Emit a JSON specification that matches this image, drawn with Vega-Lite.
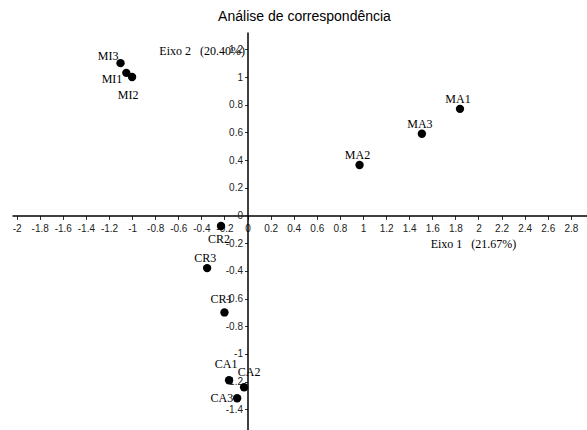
{
  "$schema": "https://vega.github.io/schema/vega-lite/v6.json",
  "width": 575,
  "height": 398,
  "autosize": {"type": "none"},
  "padding": {"top": 32, "left": 12, "right": 0, "bottom": 0},
  "background": "white",
  "title": {
    "text": "Análise de correspondência",
    "font": "Liberation Sans",
    "fontSize": 14,
    "fontWeight": "normal",
    "color": "#000",
    "offset": 8,
    "dx": 5,
    "anchor": "middle"
  },
  "config": {
    "view": {"stroke": null},
    "axis": {"grid": false}
  },
  "data": {
    "values": [
      {"label": "MI3", "x": -1.10, "y": 1.10},
      {"label": "MI1", "x": -1.05, "y": 1.03},
      {"label": "MI2", "x": -1.00, "y": 1.00},
      {"label": "MA1", "x": 1.84, "y": 0.77},
      {"label": "MA3", "x": 1.51, "y": 0.59},
      {"label": "MA2", "x": 0.97, "y": 0.365},
      {"label": "CR2", "x": -0.23, "y": -0.076},
      {"label": "CR3", "x": -0.35, "y": -0.38},
      {"label": "CR1", "x": -0.20, "y": -0.70},
      {"label": "CA1", "x": -0.16, "y": -1.19},
      {"label": "CA2", "x": -0.03, "y": -1.24},
      {"label": "CA3", "x": -0.09, "y": -1.32}
    ]
  },
  "encoding": {
    "x": {
      "field": "x",
      "type": "quantitative",
      "scale": {"domain": [-2.04, 2.94], "nice": false, "zero": false},
      "axis": {
        "orient": "bottom",
        "offset": -214.5,
        "values": [-2, -1.8, -1.6, -1.4, -1.2, -1, -0.8, -0.6, -0.4, -0.2, 0, 0.2, 0.4, 0.6, 0.8, 1, 1.2, 1.4, 1.6, 1.8, 2, 2.2, 2.4, 2.6, 2.8],
        "labelExpr": "'' + datum.value",
        "domainColor": "#000",
        "domainWidth": 1.5,
        "tickColor": "#333",
        "tickSize": 4,
        "labelPadding": 4,
        "labelFont": "Liberation Sans Narrow, Liberation Sans",
        "labelFontSize": 10,
        "labelColor": "#222",
        "labelOverlap": false,
        "labelFlush": false,
        "title": "Eixo 1\u00a0\u00a0\u00a0(21.67%)",
        "titleFont": "Liberation Serif",
        "titleFontSize": 12,
        "titleFontWeight": "normal",
        "titleColor": "#000",
        "titleAngle": 0,
        "titleX": 461,
        "titleY": 28,
        "titleAlign": "center",
        "titleBaseline": "middle"
      }
    },
    "y": {
      "field": "y",
      "type": "quantitative",
      "scale": {"domain": [-1.549, 1.325], "nice": false, "zero": false},
      "axis": {
        "orient": "left",
        "offset": -235.5,
        "values": [-1.4, -1.2, -1, -0.8, -0.6, -0.4, -0.2, 0, 0.2, 0.4, 0.6, 0.8, 1, 1.2],
        "labelExpr": "'' + datum.value",
        "domainColor": "#000",
        "domainWidth": 1.5,
        "tickColor": "#333",
        "tickSize": 3,
        "labelPadding": 2,
        "labelFont": "Liberation Sans Narrow, Liberation Sans",
        "labelFontSize": 10,
        "labelColor": "#222",
        "labelOverlap": false,
        "labelFlush": false,
        "title": "Eixo 2\u00a0\u00a0\u00a0(20.40%)",
        "titleFont": "Liberation Serif",
        "titleFontSize": 12,
        "titleFontWeight": "normal",
        "titleColor": "#000",
        "titleAngle": 0,
        "titleX": -3,
        "titleY": 18,
        "titleAlign": "right",
        "titleBaseline": "middle"
      }
    }
  },
  "layer": [
    {"mark": {"type": "circle", "size": 70, "color": "#000", "opacity": 1}},
    {
      "transform": [{"filter": {"field": "label", "oneOf": ["MA1", "MA2", "MA3", "CR3"]}}],
      "mark": {"type": "text", "font": "Liberation Serif", "fontSize": 12, "color": "#000", "align": "center", "baseline": "middle", "dx": -2, "dy": -10},
      "encoding": {"text": {"field": "label"}}
    },
    {
      "transform": [{"filter": {"field": "label", "equal": "CR1"}}],
      "mark": {"type": "text", "font": "Liberation Serif", "fontSize": 12, "color": "#000", "align": "center", "baseline": "middle", "dx": -3, "dy": -13},
      "encoding": {"text": {"field": "label"}}
    },
    {
      "transform": [{"filter": {"field": "label", "equal": "CA1"}}],
      "mark": {"type": "text", "font": "Liberation Serif", "fontSize": 12, "color": "#000", "align": "center", "baseline": "middle", "dx": -3, "dy": -16},
      "encoding": {"text": {"field": "label"}}
    },
    {
      "transform": [{"filter": {"field": "label", "equal": "CA2"}}],
      "mark": {"type": "text", "font": "Liberation Serif", "fontSize": 12, "color": "#000", "align": "center", "baseline": "middle", "dx": 5, "dy": -15},
      "encoding": {"text": {"field": "label"}}
    },
    {
      "transform": [{"filter": {"field": "label", "equal": "CR2"}}],
      "mark": {"type": "text", "font": "Liberation Serif", "fontSize": 12, "color": "#000", "align": "center", "baseline": "middle", "dx": -2, "dy": 13},
      "encoding": {"text": {"field": "label"}}
    },
    {
      "transform": [{"filter": {"field": "label", "equal": "MI2"}}],
      "mark": {"type": "text", "font": "Liberation Serif", "fontSize": 12, "color": "#000", "align": "center", "baseline": "middle", "dx": -4, "dy": 18},
      "encoding": {"text": {"field": "label"}}
    },
    {
      "transform": [{"filter": {"field": "label", "equal": "MI3"}}],
      "mark": {"type": "text", "font": "Liberation Serif", "fontSize": 12, "color": "#000", "align": "right", "baseline": "middle", "dx": -2, "dy": -7},
      "encoding": {"text": {"field": "label"}}
    },
    {
      "transform": [{"filter": {"field": "label", "equal": "MI1"}}],
      "mark": {"type": "text", "font": "Liberation Serif", "fontSize": 12, "color": "#000", "align": "right", "baseline": "middle", "dx": -4, "dy": 6},
      "encoding": {"text": {"field": "label"}}
    },
    {
      "transform": [{"filter": {"field": "label", "equal": "CA3"}}],
      "mark": {"type": "text", "font": "Liberation Serif", "fontSize": 12, "color": "#000", "align": "right", "baseline": "middle", "dx": -4, "dy": 0},
      "encoding": {"text": {"field": "label"}}
    }
  ]
}
